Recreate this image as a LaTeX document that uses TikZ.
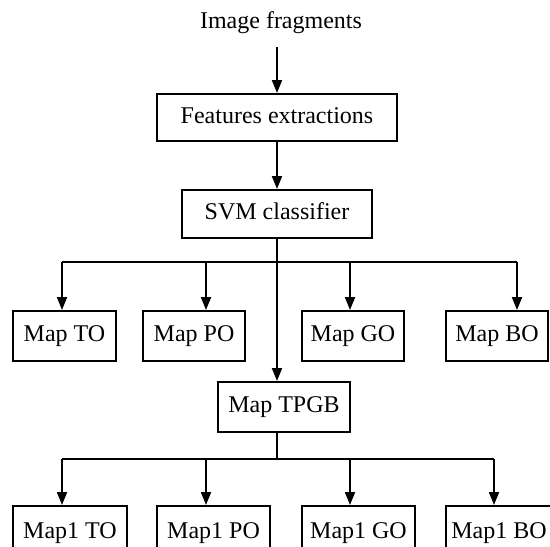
\documentclass[tikz,border=0pt]{standalone}
\usepackage{fontspec}
\setmainfont{Liberation Serif}
\usetikzlibrary{arrows.meta}
\begin{document}
\begin{tikzpicture}[x=1pt,y=-1pt,
  box/.style={draw=black,line width=2pt,inner sep=0pt,text height=16pt,text depth=5pt,
    font=\fontsize{24}{28}\selectfont},
  link/.style={line width=2pt},
  arr/.style={line width=2pt,-{Triangle[length=13pt,width=10pt]}}]
\path[use as bounding box,clip] (0,0) rectangle (550,547);
% nodes
\node[anchor=base,font=\fontsize{24}{28}\selectfont,inner sep=0pt] (src) at (281,28) {Image fragments};
\node[box,minimum width=240pt,minimum height=47pt] (feat) at (277,117.5) {Features extractions};
\node[box,minimum width=190pt,minimum height=48pt] (svm) at (277,214) {SVM classifier};
\node[box,minimum width=103pt,minimum height=50pt] (mto) at (64.5,336) {Map TO};
\node[box,minimum width=102pt,minimum height=50pt] (mpo) at (194,336) {Map PO};
\node[box,minimum width=102pt,minimum height=50pt] (mgo) at (353,336) {Map GO};
\node[box,minimum width=102pt,minimum height=50pt] (mbo) at (497,336) {Map BO};
\node[box,minimum width=132pt,minimum height=50pt] (tpgb) at (284,407) {Map TPGB};
\node[box,minimum width=114pt,minimum height=54pt] (nto) at (70,533) {Map1 TO};
\node[box,minimum width=113pt,minimum height=54pt] (npo) at (213.5,533) {Map1 PO};
\node[box,minimum width=113pt,minimum height=54pt] (ngo) at (358.5,533) {Map1 GO};
\node[box,minimum width=106pt,minimum height=54pt] (nbo) at (499,533) {Map1 BO};
% junctions
\coordinate (s0) at (277,47);
\coordinate (b1) at (62,262);
\coordinate (b2) at (206,262);
\coordinate (b3) at (350,262);
\coordinate (b4) at (517,262);
\coordinate (j2) at (277,459);
\coordinate (c1) at (62,459);
\coordinate (c2) at (206,459);
\coordinate (c3) at (350,459);
\coordinate (c4) at (494,459);
% connectors
\draw[arr] (s0) -- (feat.north);
\draw[arr] (feat.south) -- (svm.north);
\draw[arr] (svm.south) -- (svm.south |- tpgb.north);
\draw[link] (b1) -- (b4);
\draw[arr] (b1) -- (b1 |- mto.north);
\draw[arr] (b2) -- (b2 |- mpo.north);
\draw[arr] (b3) -- (b3 |- mgo.north);
\draw[arr] (b4) -- (b4 |- mbo.north);
\draw[link] (tpgb.south -| j2) -- (j2);
\draw[link] (c1) -- (c4);
\draw[arr] (c1) -- (c1 |- nto.north);
\draw[arr] (c2) -- (c2 |- npo.north);
\draw[arr] (c3) -- (c3 |- ngo.north);
\draw[arr] (c4) -- (c4 |- nbo.north);
\end{tikzpicture}
\end{document}
